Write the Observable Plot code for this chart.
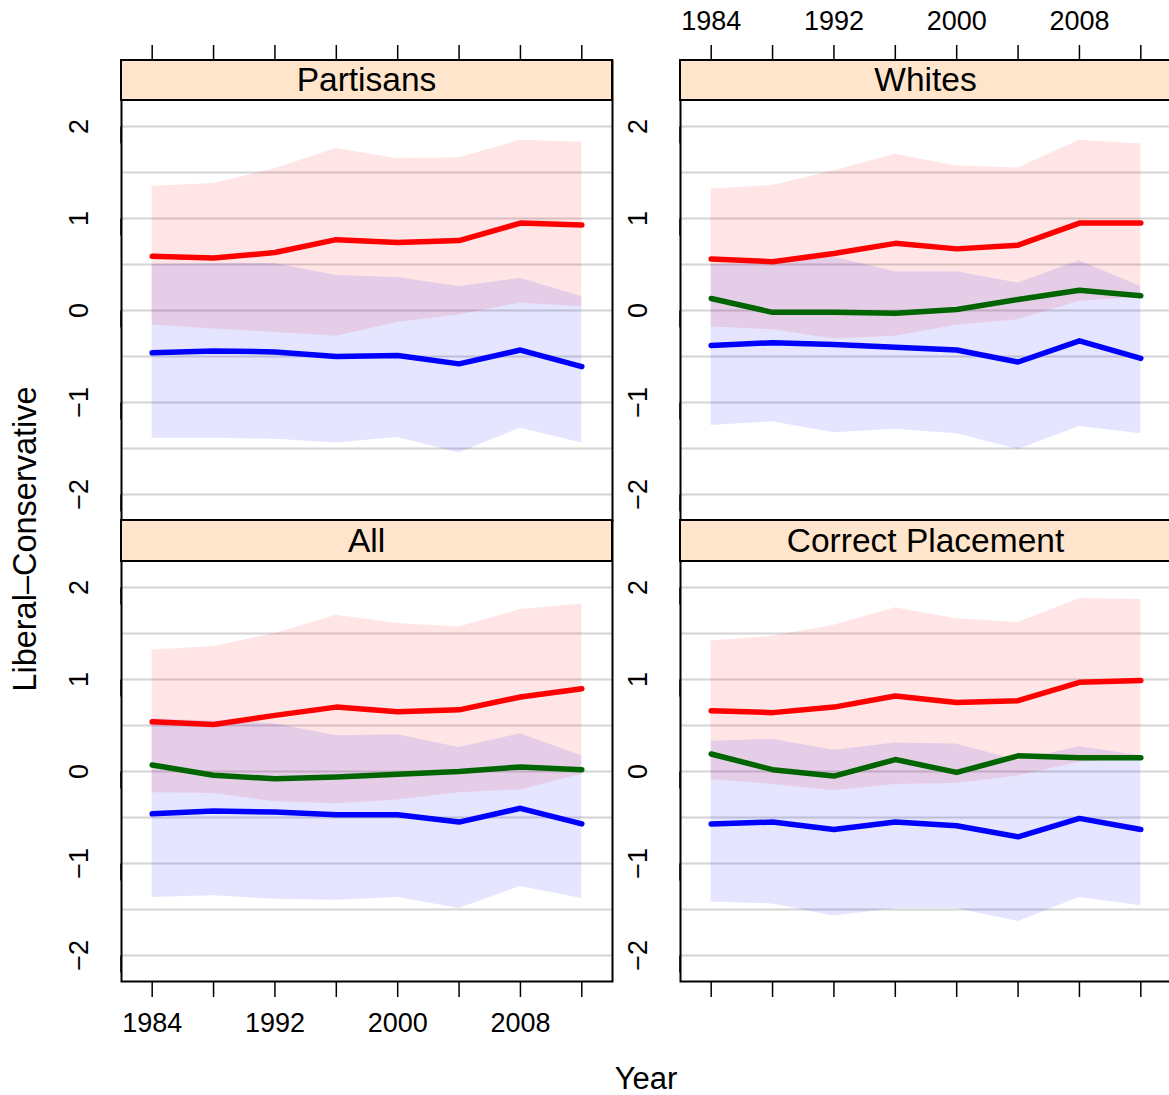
<!DOCTYPE html>
<html>
<head>
<meta charset="utf-8">
<script src="https://cdn.jsdelivr.net/npm/d3@7"></script>
<script src="https://cdn.jsdelivr.net/npm/@observablehq/plot@0.6"></script>
<style>
  body { margin: 0; background: #fff; }
  #chart { position: relative; width: 1169px; height: 1095px; overflow: hidden; background: #fff;
           font-family: "Liberation Sans", Arial, Helvetica, sans-serif; color: #000; }
  .panel { position: absolute; }
  .panel svg { max-width: none !important; }
  .strip { position: absolute; background: #FFE5CC; border: 2px solid #000; box-sizing: border-box;
           display: flex; align-items: center; justify-content: center; font-size: 33.5px; line-height: 1; }
  .atitle { position: absolute; white-space: nowrap; line-height: 1; }
</style>
</head>
<body>
<div id="chart"></div>
<script>
// ---------------- data ----------------
const years = [1984, 1988, 1992, 1996, 2000, 2004, 2008, 2012];
const xTickYears = [1984, 1988, 1992, 1996, 2000, 2004, 2008, 2012];
const xLabelYears = [1984, 1992, 2000, 2008];
const yTickValues = [-2, -1, 0, 1, 2];
const yGridValues = [-2, -1.5, -1, -0.5, 0, 0.5, 1, 1.5, 2];
const panelTitles = ["Partisans", "Whites", "All", "Correct Placement"];
const yTitle = "Liberal\u2013Conservative";
const xTitle = "Year";

// Partisans
const partisansRepMean = [0.59, 0.57, 0.63, 0.77, 0.74, 0.76, 0.95, 0.93];
const partisansRepHi   = [1.35, 1.38, 1.54, 1.76, 1.65, 1.66, 1.85, 1.83];
const partisansRepLo   = [-0.16, -0.20, -0.24, -0.28, -0.13, -0.05, 0.08, 0.04];
const partisansDemMean = [-0.46, -0.44, -0.45, -0.50, -0.49, -0.58, -0.43, -0.61];
const partisansDemHi   = [0.50, 0.51, 0.51, 0.38, 0.36, 0.26, 0.35, 0.15];
const partisansDemLo   = [-1.39, -1.39, -1.40, -1.44, -1.38, -1.55, -1.28, -1.44];

// Whites
const whitesRepMean = [0.56, 0.53, 0.62, 0.73, 0.67, 0.71, 0.95, 0.95];
const whitesRepHi   = [1.32, 1.36, 1.52, 1.70, 1.57, 1.55, 1.85, 1.81];
const whitesRepLo   = [-0.18, -0.21, -0.31, -0.28, -0.16, -0.10, 0.10, 0.14];
const whitesIndMean = [0.13, -0.02, -0.02, -0.03, 0.01, 0.12, 0.22, 0.16];
const whitesDemMean = [-0.38, -0.35, -0.37, -0.40, -0.43, -0.56, -0.33, -0.52];
const whitesDemHi   = [0.50, 0.52, 0.58, 0.42, 0.42, 0.30, 0.54, 0.26];
const whitesDemLo   = [-1.25, -1.21, -1.33, -1.29, -1.34, -1.51, -1.26, -1.34];

// All
const allRepMean = [0.54, 0.51, 0.61, 0.70, 0.65, 0.67, 0.81, 0.90];
const allRepHi   = [1.32, 1.36, 1.50, 1.70, 1.61, 1.57, 1.76, 1.82];
const allRepLo   = [-0.23, -0.24, -0.33, -0.35, -0.31, -0.23, -0.20, -0.03];
const allIndMean = [0.07, -0.04, -0.08, -0.06, -0.03, 0.00, 0.05, 0.02];
const allDemMean = [-0.46, -0.43, -0.44, -0.47, -0.47, -0.55, -0.40, -0.57];
const allDemHi   = [0.57, 0.55, 0.52, 0.39, 0.40, 0.26, 0.41, 0.17];
const allDemLo   = [-1.37, -1.35, -1.39, -1.40, -1.37, -1.49, -1.25, -1.38];

// Correct Placement
const correctRepMean = [0.66, 0.64, 0.70, 0.82, 0.75, 0.77, 0.97, 0.99];
const correctRepHi   = [1.42, 1.47, 1.59, 1.78, 1.66, 1.62, 1.88, 1.87];
const correctRepLo   = [-0.09, -0.14, -0.21, -0.14, -0.13, -0.05, 0.10, 0.14];
const correctIndMean = [0.19, 0.02, -0.05, 0.13, -0.01, 0.17, 0.15, 0.15];
const correctDemMean = [-0.57, -0.55, -0.63, -0.55, -0.59, -0.71, -0.51, -0.63];
const correctDemHi   = [0.33, 0.35, 0.23, 0.31, 0.30, 0.12, 0.27, 0.17];
const correctDemLo   = [-1.42, -1.44, -1.57, -1.49, -1.49, -1.63, -1.37, -1.46];

// ---------------- build ----------------
function series(mean, lo, hi) {
  return years.map((year, i) => ({year, mean: mean[i], lo: lo ? lo[i] : null, hi: hi ? hi[i] : null}));
}
const panels = [
  {rep: series(partisansRepMean, partisansRepLo, partisansRepHi), ind: null,
   dem: series(partisansDemMean, partisansDemLo, partisansDemHi)},
  {rep: series(whitesRepMean, whitesRepLo, whitesRepHi), ind: series(whitesIndMean),
   dem: series(whitesDemMean, whitesDemLo, whitesDemHi)},
  {rep: series(allRepMean, allRepLo, allRepHi), ind: series(allIndMean),
   dem: series(allDemMean, allDemLo, allDemHi)},
  {rep: series(correctRepMean, correctRepLo, correctRepHi), ind: series(correctIndMean),
   dem: series(correctDemMean, correctDemLo, correctDemHi)}
];

const layout = [
  {left: 0,   top: 0,   width: 614, height: 522, mL: 121, mT: 60, bodyTop: 100, bodyBottom: 520, axis: "top",    labels: false},
  {left: 612, top: 0,   width: 561, height: 522, mL: 68,  mT: 60, bodyTop: 100, bodyBottom: 520, axis: "top",    labels: true},
  {left: 0,   top: 518, width: 614, height: 577, mL: 121, mT: 2,  bodyTop: 43,  bodyBottom: 463, axis: "bottom", labels: true},
  {left: 612, top: 518, width: 561, height: 577, mL: 68,  mT: 2,  bodyTop: 43,  bodyBottom: 463, axis: "bottom", labels: false}
];

const chart = document.getElementById("chart");
const fmtY = d => d < 0 ? "\u2212" + Math.abs(d) : String(d);
const LW = 5.5;

panels.forEach((p, i) => {
  const L = layout[i];
  const marks = [
    Plot.ruleY(yGridValues, {stroke: "#d4d4d4", strokeWidth: 2}),
    Plot.areaY(p.rep, {x: "year", y1: "lo", y2: "hi", fill: "#ff0000", fillOpacity: 0.1}),
    Plot.areaY(p.dem, {x: "year", y1: "lo", y2: "hi", fill: "#0000ff", fillOpacity: 0.1}),
    Plot.lineY(p.rep, {x: "year", y: "mean", stroke: "#ff0000", strokeWidth: LW, strokeLinecap: "round", strokeLinejoin: "round"}),
  ];
  if (p.ind) marks.push(Plot.lineY(p.ind, {x: "year", y: "mean", stroke: "#006400", strokeWidth: LW, strokeLinecap: "round", strokeLinejoin: "round"}));
  marks.push(
    Plot.lineY(p.dem, {x: "year", y: "mean", stroke: "#0000ff", strokeWidth: LW, strokeLinecap: "round", strokeLinejoin: "round"}),
    Plot.frame({stroke: "#000", strokeWidth: 2}),
    Plot.axisY({anchor: "left", ticks: yTickValues, tickSize: 17, tickPadding: 25, rotate: -90,
                textAnchor: "middle", lineAnchor: "middle", tickFormat: fmtY, fontSize: 27,
                strokeWidth: 1.5, label: null}),
    Plot.axisX({anchor: L.axis, ticks: xTickYears, tickSize: 16, tickPadding: L.axis === "top" ? 15 : 15,
                tickFormat: d => (L.labels && xLabelYears.includes(d)) ? String(d) : "",
                fontSize: 27, strokeWidth: 1.5, label: null})
  );
  const plot = Plot.plot({
    width: L.width,
    height: L.height,
    marginLeft: L.mL,
    marginRight: 2,
    marginTop: L.mT,
    marginBottom: L.height - L.bodyBottom,
    x: {domain: [1982, 2014]},
    y: {domain: [-2.283, 2.283], range: [L.bodyBottom, L.bodyTop]},
    style: {fontFamily: "'Liberation Sans', Arial, Helvetica, sans-serif", fontSize: "27px",
            background: "transparent", overflow: "visible", color: "#000"},
    marks
  });
  const wrap = document.createElement("div");
  wrap.className = "panel";
  wrap.style.left = L.left + "px";
  wrap.style.top = L.top + "px";
  wrap.style.width = L.width + "px";
  wrap.style.height = L.height + "px";
  wrap.appendChild(plot);
  chart.appendChild(wrap);

  const strip = document.createElement("div");
  strip.className = "strip";
  strip.style.left = (L.left + L.mL - 1) + "px";
  strip.style.top = (L.top + L.mT - 1) + "px";
  strip.style.width = "493px";
  strip.style.height = (L.bodyTop - L.mT + 2) + "px";
  strip.textContent = panelTitles[i];
  chart.appendChild(strip);
});

const yt = document.createElement("div");
yt.className = "atitle";
yt.style.fontSize = "32.5px";
yt.style.left = "25px";
yt.style.top = "539px";
yt.style.transform = "translate(-50%, -50%) rotate(-90deg)";
yt.textContent = yTitle;
chart.appendChild(yt);

const xt = document.createElement("div");
xt.className = "atitle";
xt.style.fontSize = "31px";
xt.style.left = "646px";
xt.style.top = "1078px";
xt.style.transform = "translate(-50%, -50%)";
xt.textContent = xTitle;
chart.appendChild(xt);
</script>
</body>
</html>
